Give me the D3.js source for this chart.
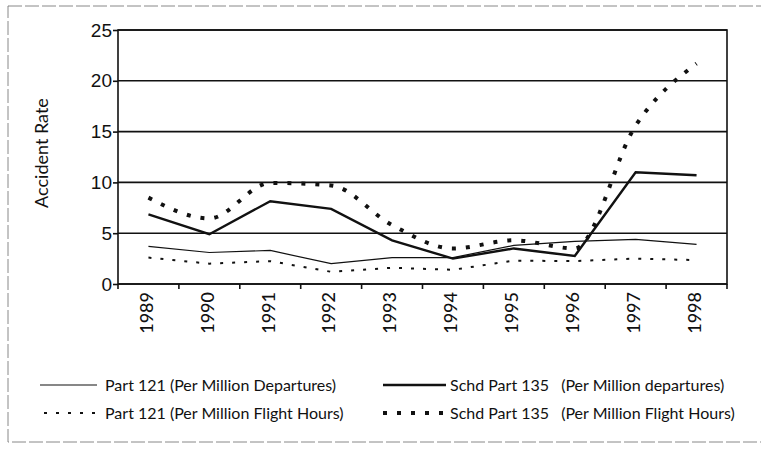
<!DOCTYPE html>
<html>
<head>
<meta charset="utf-8">
<script src="https://cdn.jsdelivr.net/npm/d3@7"></script>
<style>
  body { margin: 0; background: #fff; }
  svg { display: block; font-family: "Lato", "Noto Sans", sans-serif; }
</style>
</head>
<body>
<svg width="761" height="451"></svg>
<script>
// data
var years = ["1989", "1990", "1991", "1992", "1993", "1994", "1995", "1996", "1997", "1998"];
var part121Dep = [3.7, 3.1, 3.3, 2.0, 2.6, 2.6, 3.8, 4.2, 4.4, 3.9];
var part121Hrs = [2.6, 2.0, 2.25, 1.2, 1.6, 1.4, 2.3, 2.25, 2.5, 2.35];
var part135Dep = [6.85, 4.9, 8.15, 7.4, 4.3, 2.5, 3.5, 2.75, 11.0, 10.7];
var part135Hrs = [8.5, 6.45, 9.95, 9.7, 5.8, 3.5, 4.3, 3.5, 15.6, 21.7];
var yTicks = [0, 5, 10, 15, 20, 25];

var series = [
  {name: "Part 121 (Per Million Departures)", values: part121Dep, width: 1.2, dash: null, curve: d3.curveLinear},
  {name: "Part 121 (Per Million Flight Hours)", values: part121Hrs, width: 2, dash: "3,9", curve: d3.curveLinear},
  {name: "Schd Part 135\u2002 (Per Million departures)", values: part135Dep, width: 2.4, dash: null, curve: d3.curveLinear},
  {name: "Schd Part 135\u2002 (Per Million Flight Hours)", values: part135Hrs, width: 4, dash: "4,10", curve: d3.curveMonotoneX}
];

var svg = d3.select("svg"),
    margin = {top: 30, left: 118},
    width = 609,
    height = 254,
    g = svg.append("g").attr("transform", "translate(" + margin.left + "," + margin.top + ")");

// scan frame
svg.append("rect")
    .attr("x", 8).attr("y", 6)
    .attr("width", 760).attr("height", 436)
    .attr("fill", "none")
    .attr("stroke", "#888")
    .attr("stroke-width", 1)
    .attr("stroke-dasharray", "14,3");

var x = d3.scaleBand().domain(years).range([0, width]);
var y = d3.scaleLinear().domain([0, 25]).range([height, 0]);

// gridlines
g.selectAll(".grid")
  .data(yTicks)
  .enter().append("line")
    .attr("class", "grid")
    .attr("x1", 0).attr("x2", width)
    .attr("y1", function(d) { return y(d); })
    .attr("y2", function(d) { return y(d); })
    .attr("stroke", "#111")
    .attr("stroke-width", 1.6);

// plot frame
g.append("rect")
    .attr("width", width).attr("height", height)
    .attr("fill", "none")
    .attr("stroke", "#111")
    .attr("stroke-width", 1.6);

// y axis
var yAxis = g.append("g")
    .call(d3.axisLeft(y).tickValues(yTicks).tickSize(5).tickPadding(1));
yAxis.select(".domain").remove();
yAxis.selectAll("line").attr("stroke", "#111").attr("stroke-width", 1.6);
yAxis.selectAll("text")
    .attr("fill", "#111")
    .style("font-size", "19px")
    .style("font-weight", "500");

// x axis ticks at band edges
var edges = years.map(function(d) { return x(d); }).concat([width]);
g.selectAll(".xtick")
  .data(edges)
  .enter().append("line")
    .attr("class", "xtick")
    .attr("x1", function(d) { return d; }).attr("x2", function(d) { return d; })
    .attr("y1", height).attr("y2", height + 5)
    .attr("stroke", "#111")
    .attr("stroke-width", 1.6);

g.selectAll(".xlabel")
  .data(years)
  .enter().append("text")
    .attr("class", "xlabel")
    .attr("transform", function(d) { return "translate(" + (x(d) + x.bandwidth() / 2 - 2) + "," + (height + 8) + ") rotate(-90)"; })
    .attr("text-anchor", "end")
    .attr("dy", "0.35em")
    .attr("fill", "#111")
    .style("font-size", "18px")
    .style("font-weight", "500")
    .text(function(d) { return d; });

// y title
svg.append("text")
    .attr("transform", "translate(42,153) rotate(-90)")
    .attr("text-anchor", "middle")
    .attr("dy", "0.35em")
    .attr("fill", "#111")
    .style("font-size", "18px")
    .text("Accident Rate");

// lines
series.forEach(function(s) {
  var line = d3.line()
      .x(function(d, i) { return x(years[i]) + x.bandwidth() / 2; })
      .y(function(d) { return y(d); })
      .curve(s.curve);
  g.append("path")
      .datum(s.values)
      .attr("d", line)
      .attr("fill", "none")
      .attr("stroke", "#111")
      .attr("stroke-width", s.width)
      .attr("stroke-dasharray", s.dash);
});

// legend
var legendPos = [
  {x1: 40, x2: 97, tx: 105, y: 385},
  {x1: 44, x2: 97, tx: 105, y: 413},
  {x1: 383, x2: 446, tx: 450, y: 385},
  {x1: 383, x2: 446, tx: 450, y: 413}
];
var legend = svg.selectAll(".legend")
  .data(series)
  .enter().append("g")
    .attr("class", "legend");

legend.append("line")
    .attr("x1", function(d, i) { return legendPos[i].x1; })
    .attr("x2", function(d, i) { return legendPos[i].x2; })
    .attr("y1", function(d, i) { return legendPos[i].y; })
    .attr("y2", function(d, i) { return legendPos[i].y; })
    .attr("stroke", "#111")
    .attr("stroke-width", function(d) { return d.width; })
    .attr("stroke-dasharray", function(d) { return d.dash; });

legend.append("text")
    .attr("x", function(d, i) { return legendPos[i].tx; })
    .attr("y", function(d, i) { return legendPos[i].y; })
    .attr("dy", "0.35em")
    .attr("fill", "#111")
    .style("font-size", "16px")
    .style("white-space", "pre")
    .text(function(d) { return d.name; });
</script>
</body>
</html>
